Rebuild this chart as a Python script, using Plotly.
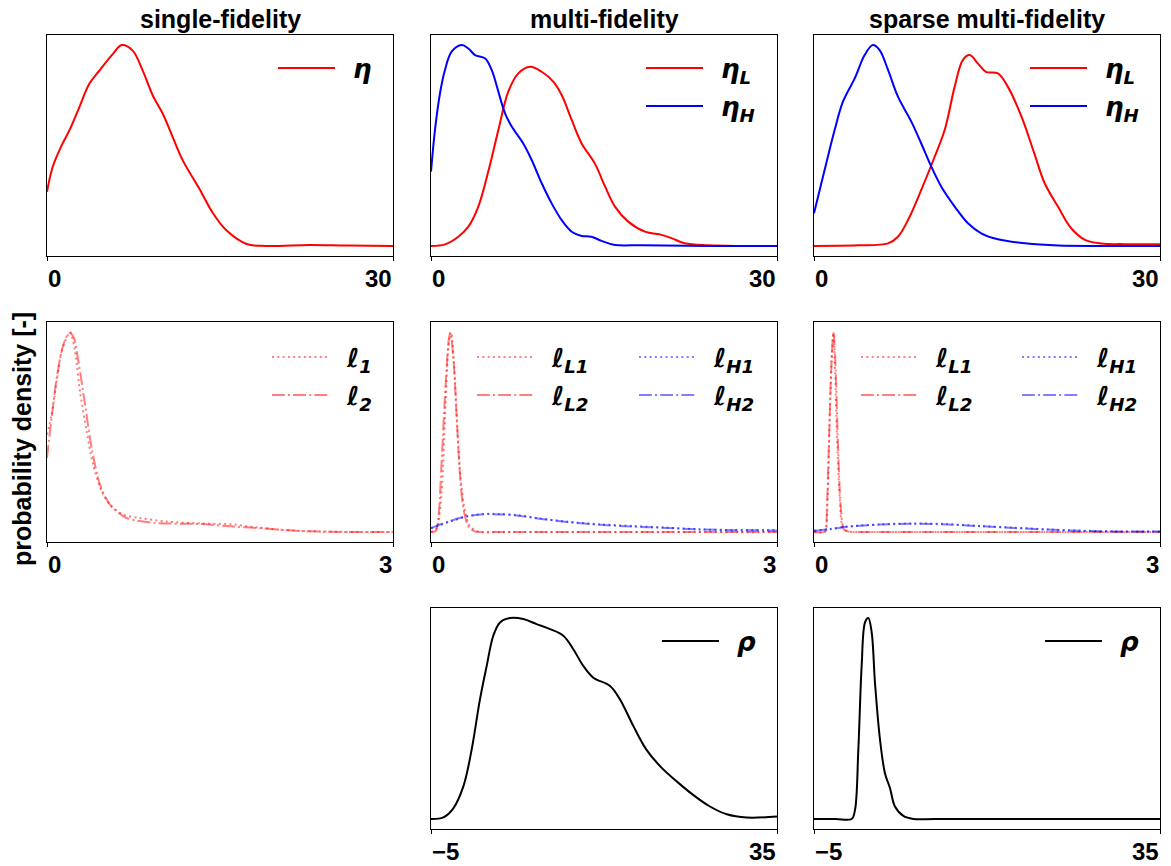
import plotly.graph_objects as go

W, H = 1171, 866

# ---------------- data (densities normalised to panel peak) ----------------
# row 1 : eta, x in [0, 30]
eta_sf_x = [0, 0.49, 1.21, 1.94, 2.8, 3.67, 4.54, 5.7, 6.48, 7.43, 8.3, 9.17, 10.04, 10.9, 11.77, 13.2, 14.4, 15.53, 17.3, 19.0, 22.8, 26, 30]
eta_sf_y = [0.27, 0.393, 0.493, 0.575, 0.69, 0.807, 0.873, 0.955, 1.0, 0.972, 0.873, 0.749, 0.658, 0.542, 0.426, 0.286, 0.162, 0.079, 0.01, 0.0, 0.005, 0.002, 0.0]

eta_L_mf_x = [0, 1.21, 2.37, 3.24, 4.1, 5.0, 5.84, 6.7, 7.57, 8.58, 9.6, 10.6, 11.33, 12.2, 13.06, 14.2, 15.1, 15.95, 17.1, 18.55, 20.0, 20.9, 22.0, 24.0, 27.0, 30]
eta_L_mf_y = [0.0, 0.008, 0.046, 0.096, 0.196, 0.378, 0.577, 0.768, 0.859, 0.892, 0.867, 0.818, 0.751, 0.627, 0.51, 0.411, 0.295, 0.196, 0.121, 0.071, 0.055, 0.038, 0.013, 0.003, 0.0, 0.0]
eta_H_mf_x = [0, 0.35, 0.78, 1.21, 1.79, 2.66, 3.24, 3.82, 4.68, 5.26, 5.84, 6.42, 7.0, 8.0, 8.73, 9.6, 10.46, 11.33, 12.2, 13.06, 13.9, 14.8, 15.95, 18.3, 24.0, 30]
eta_H_mf_y = [0.37, 0.58, 0.76, 0.876, 0.967, 1.0, 0.983, 0.95, 0.934, 0.876, 0.768, 0.66, 0.594, 0.51, 0.428, 0.312, 0.212, 0.129, 0.071, 0.05, 0.046, 0.025, 0.005, 0.004, 0.0, 0.0]

eta_L_smf_x = [0, 3.8, 6.42, 7.28, 8.15, 9.3, 10.46, 11.33, 12.2, 12.9, 13.5, 14.2, 14.9, 15.95, 16.8, 18.0, 19.1, 20.0, 21.15, 22.3, 23.5, 24.9, 27.0, 30]
eta_L_smf_y = [0.0, 0.003, 0.013, 0.046, 0.129, 0.279, 0.444, 0.577, 0.793, 0.925, 0.95, 0.909, 0.867, 0.859, 0.793, 0.643, 0.461, 0.312, 0.196, 0.088, 0.03, 0.012, 0.009, 0.008]
eta_H_smf_x = [0, 0.92, 1.79, 2.51, 3.53, 4.39, 5.1, 5.69, 6.42, 7.28, 8.44, 9.3, 10.17, 11.04, 12.2, 13.35, 14.5, 15.95, 18.3, 21.2, 25.0, 30]
eta_H_smf_y = [0.163, 0.378, 0.577, 0.718, 0.834, 0.95, 1.0, 0.975, 0.876, 0.743, 0.619, 0.51, 0.395, 0.295, 0.196, 0.113, 0.063, 0.033, 0.013, 0.002, 0.0, 0.0]

# row 2 : length scales, x in [0, 3]
l1_sf_x = [0, 0.04, 0.084, 0.127, 0.2, 0.243, 0.286, 0.344, 0.4, 0.474, 0.546, 0.66, 0.806, 1.04, 1.33, 1.62, 1.76, 2.05, 2.34, 2.7, 3.0]
l1_sf_y = [0.487, 0.587, 0.753, 0.903, 1.0, 0.903, 0.703, 0.503, 0.337, 0.203, 0.137, 0.087, 0.07, 0.052, 0.043, 0.038, 0.027, 0.01, 0.003, 0.0, 0.0]
l2_sf_x = [0, 0.04, 0.084, 0.142, 0.194, 0.228, 0.272, 0.33, 0.387, 0.46, 0.546, 0.69, 0.95, 1.33, 1.62, 1.9, 2.19, 2.6, 3.0]
l2_sf_y = [0.37, 0.57, 0.77, 0.937, 0.995, 0.978, 0.853, 0.637, 0.42, 0.237, 0.137, 0.07, 0.045, 0.04, 0.027, 0.017, 0.005, 0.0, 0.0]

lL1_mf_x = [0, 0.05, 0.092, 0.121, 0.15, 0.173, 0.202, 0.228, 0.257, 0.295, 0.338, 0.41, 0.6, 1.0, 2.0, 3.0]
lL1_mf_y = [0.0, 0.02, 0.2, 0.57, 0.92, 1.0, 0.82, 0.52, 0.27, 0.103, 0.028, 0.003, 0.0, 0.0, 0.0, 0.0]
lL2_mf_x = [0, 0.04, 0.064, 0.092, 0.127, 0.156, 0.168, 0.194, 0.223, 0.251, 0.28, 0.324, 0.38, 0.6, 1.0, 2.0, 3.0]
lL2_mf_y = [0.0, 0.005, 0.07, 0.353, 0.737, 0.97, 0.995, 0.87, 0.57, 0.287, 0.12, 0.028, 0.003, 0.0, 0.0, 0.0, 0.0]
lH1_mf_x = [0, 0.165, 0.31, 0.454, 0.6, 0.743, 0.945, 1.18, 1.47, 1.75, 2.04, 2.33, 2.62, 3.0]
lH1_mf_y = [0.018, 0.052, 0.077, 0.09, 0.09, 0.085, 0.068, 0.052, 0.038, 0.03, 0.022, 0.013, 0.01, 0.01]
lH2_mf_x = [0, 0.165, 0.31, 0.454, 0.6, 0.743, 0.945, 1.18, 1.47, 1.75, 2.04, 2.33, 2.62, 3.0]
lH2_mf_y = [0.02, 0.055, 0.079, 0.089, 0.088, 0.083, 0.066, 0.05, 0.036, 0.027, 0.02, 0.013, 0.009, 0.008]

lL1_smf_x = [0, 0.092, 0.116, 0.136, 0.156, 0.168, 0.179, 0.197, 0.223, 0.251, 0.295, 0.5, 1.0, 2.0, 3.0]
lL1_smf_y = [0.0, 0.003, 0.137, 0.57, 0.903, 0.995, 0.87, 0.52, 0.17, 0.02, 0.003, 0.0, 0.0, 0.0, 0.0]
lL2_smf_x = [0, 0.1, 0.107, 0.127, 0.15, 0.168, 0.185, 0.208, 0.231, 0.26, 0.3, 0.5, 1.0, 2.0, 3.0]
lL2_smf_y = [0.0, 0.002, 0.037, 0.403, 0.82, 1.0, 0.853, 0.437, 0.137, 0.012, 0.002, 0.0, 0.0, 0.0, 0.0]
lH1_smf_x = [0, 0.139, 0.283, 0.572, 0.861, 1.15, 1.44, 1.73, 2.02, 2.31, 2.6, 3.0]
lH1_smf_y = [0.007, 0.015, 0.027, 0.038, 0.043, 0.04, 0.03, 0.022, 0.013, 0.007, 0.003, 0.003]
lH2_smf_x = [0, 0.139, 0.283, 0.572, 0.861, 1.15, 1.44, 1.73, 2.02, 2.31, 2.6, 3.0]
lH2_smf_y = [0.006, 0.014, 0.026, 0.037, 0.041, 0.038, 0.029, 0.02, 0.012, 0.006, 0.003, 0.002]

# row 3 : rho, x in [-5, 35]
rho_mf_x = [-5, -3.57, -2.42, -1.26, -0.3, 0.66, 1.44, 2.2, 2.98, 4.13, 5.67, 7.2, 8.76, 10.3, 11.45, 12.6, 13.77, 15.7, 16.85, 18.4, 19.9, 21.5, 23.4, 25.3, 27.25, 29.2, 31.5, 35]
rho_mf_y = [0.0, 0.008, 0.053, 0.162, 0.345, 0.595, 0.762, 0.912, 0.978, 1.0, 0.995, 0.97, 0.945, 0.912, 0.845, 0.762, 0.703, 0.662, 0.595, 0.462, 0.345, 0.262, 0.187, 0.12, 0.062, 0.023, 0.007, 0.012]
rho_smf_x = [-5, -2.5, -0.65, -0.26, 0.125, 0.51, 0.9, 1.28, 1.67, 2.05, 2.63, 3.2, 3.79, 4.36, 5.33, 6.48, 9.0, 20.0, 35]
rho_smf_y = [0, 0, 0, 0.045, 0.345, 0.762, 0.978, 1.0, 0.928, 0.678, 0.395, 0.228, 0.153, 0.062, 0.015, 0, 0, 0, 0]

# axis ticks / labels
ticks_eta = [0, 30]
ticks_len = [0, 3]
ticks_rho = [-5, 35]
ticklabels_eta = ["0", "30"]
ticklabels_len = ["0", "3"]
ticklabels_rho = ["\u22125", "35"]

col_titles = ["single-fidelity", "multi-fidelity", "sparse multi-fidelity"]
ylabel = "probability density [-]"

# ---------------- styling / layout ----------------
RED = "#ff0000"
BLUE = "#0000ff"
RED_A = "rgba(255,0,0,0.5)"
BLUE_A = "rgba(0,0,255,0.5)"
DOT = "2px,3.3px"
DASHDOT = "12.8px,3.2px,2px,3.2px"
LW = 2

cols_px = [(47, 393), (431, 777), (814, 1160)]
rows_px = [(35, 256), (322, 542), (608, 829)]
TXT_FONT = "Liberation Sans, Arial, Helvetica, sans-serif"
MATH_FONT = "DejaVu Sans, sans-serif"
TITLE_SIZE = 25
TICK_SIZE = 24
LEG_SIZE = 26


def fx(p):
    return p / W


def fy(p):
    return 1 - p / H


def nm(sym, sub=None):
    pad = "\u2002"
    if sub is None:
        return f"{pad}<b><i>{sym}</i></b>"
    return f"{pad}<b><i>{sym}<sub>{sub}</sub></i></b>"


# panel definitions: (row, col, xrange, ticks, ticklabels, traces)
# trace: (x, y, name, color, dash, legend column, legend row)
panels = [
    (0, 0, [0, 30], ticks_eta, ticklabels_eta,
     [(eta_sf_x, eta_sf_y, nm("η"), RED, "solid", 0, 0)]),
    (0, 1, [0, 30], ticks_eta, ticklabels_eta,
     [(eta_L_mf_x, eta_L_mf_y, nm("η", "L"), RED, "solid", 0, 0),
      (eta_H_mf_x, eta_H_mf_y, nm("η", "H"), BLUE, "solid", 0, 1)]),
    (0, 2, [0, 30], ticks_eta, ticklabels_eta,
     [(eta_L_smf_x, eta_L_smf_y, nm("η", "L"), RED, "solid", 0, 0),
      (eta_H_smf_x, eta_H_smf_y, nm("η", "H"), BLUE, "solid", 0, 1)]),
    (1, 0, [0, 3], ticks_len, ticklabels_len,
     [(l1_sf_x, l1_sf_y, nm("ℓ", "1"), RED_A, DOT, 0, 0),
      (l2_sf_x, l2_sf_y, nm("ℓ", "2"), RED_A, DASHDOT, 0, 1)]),
    (1, 1, [0, 3], ticks_len, ticklabels_len,
     [(lL1_mf_x, lL1_mf_y, nm("ℓ", "L1"), RED_A, DOT, 0, 0),
      (lL2_mf_x, lL2_mf_y, nm("ℓ", "L2"), RED_A, DASHDOT, 0, 1),
      (lH1_mf_x, lH1_mf_y, nm("ℓ", "H1"), BLUE_A, DOT, 1, 0),
      (lH2_mf_x, lH2_mf_y, nm("ℓ", "H2"), BLUE_A, DASHDOT, 1, 1)]),
    (1, 2, [0, 3], ticks_len, ticklabels_len,
     [(lL1_smf_x, lL1_smf_y, nm("ℓ", "L1"), RED_A, DOT, 0, 0),
      (lL2_smf_x, lL2_smf_y, nm("ℓ", "L2"), RED_A, DASHDOT, 0, 1),
      (lH1_smf_x, lH1_smf_y, nm("ℓ", "H1"), BLUE_A, DOT, 1, 0),
      (lH2_smf_x, lH2_smf_y, nm("ℓ", "H2"), BLUE_A, DASHDOT, 1, 1)]),
    (2, 1, [-5, 35], ticks_rho, ticklabels_rho,
     [(rho_mf_x, rho_mf_y, nm("ρ"), "black", "solid", 0, 0)]),
    (2, 2, [-5, 35], ticks_rho, ticklabels_rho,
     [(rho_smf_x, rho_smf_y, nm("ρ"), "black", "solid", 0, 0)]),
]

# legend anchor: (line start px x, first row centre px y) per panel & legend column
legend_pos = {
    (0, 0, 0): (278, 68), (0, 1, 0): (646, 68), (0, 2, 0): (1030, 68),
    (1, 0, 0): (272, 357), (1, 1, 0): (477, 357), (1, 1, 1): (639, 357),
    (1, 2, 0): (861, 357), (1, 2, 1): (1022, 357),
    (2, 1, 0): (662, 641), (2, 2, 0): (1045, 641),
}
LEG_ROW_GAP = 38
LEG_DX = 5      # offset of legend line start from legend box left

fig = go.Figure()
layout = dict(width=W, height=H, margin=dict(l=0, r=0, t=0, b=0),
              paper_bgcolor="white", plot_bgcolor="white", showlegend=True)
annotations = []
leg_count = 0

for i, (r, c, xr, tv, tl, traces) in enumerate(panels, 1):
    xs = "" if i == 1 else str(i)
    x0, x1 = cols_px[c]
    y0, y1 = rows_px[r]
    ymax = max(max(t[1]) for t in traces)
    layout["xaxis" + xs] = dict(
        domain=[fx(x0), fx(x1)], range=xr, anchor="y" + xs,
        showline=True, mirror=True, linecolor="black", linewidth=1,
        ticks="outside", ticklen=4, tickwidth=1, tickcolor="black",
        tickvals=tv, showticklabels=False, showgrid=False, zeroline=False)
    layout["yaxis" + xs] = dict(
        domain=[fy(y1), fy(y0)], range=[-0.05 * ymax, 1.05 * ymax], anchor="x" + xs,
        showline=True, mirror=True, linecolor="black", linewidth=1,
        ticks="", showticklabels=False, showgrid=False, zeroline=False)
    for k, (val, lab) in enumerate(zip(tv, tl)):
        annotations.append(dict(
            x=val, xref="x" + xs, y=fy(y1 + 22), yref="paper",
            text=f"<b>{lab}</b>", showarrow=False, borderpad=0,
            xanchor="left" if k == 0 else "right", yanchor="middle",
            font=dict(family=TXT_FONT, size=TICK_SIZE, color="black")))
    for j, (tx, ty, name, color, dash, lc, lr) in enumerate(traces):
        leg_count += 1
        lname = "legend" if leg_count == 1 else f"legend{leg_count}"
        lx, ly = legend_pos[(r, c, lc)]
        ly = ly + lr * LEG_ROW_GAP
        layout[lname] = dict(
            x=fx(lx - LEG_DX), y=fy(ly), xanchor="left", yanchor="middle",
            bgcolor="rgba(0,0,0,0)", borderwidth=0, itemwidth=57,
            itemclick=False, itemdoubleclick=False,
            font=dict(family=MATH_FONT, size=LEG_SIZE, color="black"))
        smooth = 0.8 if r == 1 else 1.0
        fig.add_trace(go.Scatter(
            x=tx, y=ty, mode="lines", name=name,
            xaxis="x" + xs, yaxis="y" + xs, legend=lname,
            line=dict(color=color, width=LW, dash=dash, shape="spline", smoothing=smooth)))

for c, t in enumerate(col_titles):
    annotations.append(dict(
        x=fx((cols_px[c][0] + cols_px[c][1]) / 2), y=fy(19), xref="paper", yref="paper",
        text=f"<b>{t}</b>", showarrow=False, xanchor="center", yanchor="middle",
        font=dict(family=TXT_FONT, size=TITLE_SIZE, color="black")))

annotations.append(dict(
    x=fx(22), y=fy(439), xref="paper", yref="paper", text=f"<b>{ylabel}</b>",
    showarrow=False, textangle=-90, xanchor="center", yanchor="middle",
    font=dict(family=TXT_FONT, size=TITLE_SIZE, color="black")))

layout["annotations"] = annotations
fig.update_layout(**layout)
fig.write_html("out.html")
